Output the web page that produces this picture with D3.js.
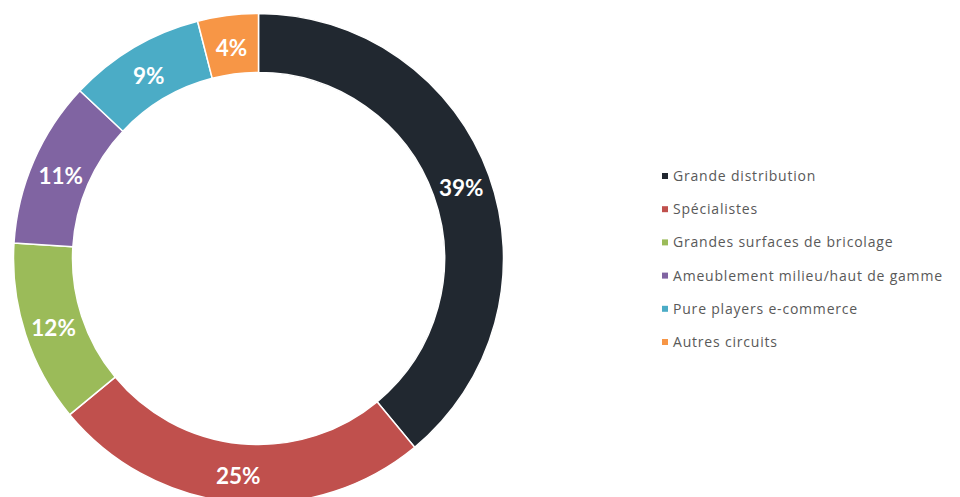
<!DOCTYPE html>
<html>
<head>
<meta charset="utf-8">
<script src="https://cdn.jsdelivr.net/npm/d3@7"></script>
<style>
  html, body { margin: 0; padding: 0; background: #fff; }
  svg { display: block; }
</style>
</head>
<body>
<svg id="chart" width="960" height="497"></svg>
<script>
// Distribution channels and their share (%)
const categories = [
  "Grande distribution",
  "Spécialistes",
  "Grandes surfaces de bricolage",
  "Ameublement milieu/haut de gamme",
  "Pure players e-commerce",
  "Autres circuits"
];
const shares = [39, 25, 12, 11, 9, 4];
const colors = ["#212830", "#C0504D", "#9BBB59", "#8064A2", "#4BACC6", "#F79646"];

const svg = d3.select("#chart");
const cx = 258.5, cy = 258.5;
const outerR = 245, innerR = 186;

const data = categories.map((c, i) => ({ name: c, value: shares[i], color: colors[i] }));

const pie = d3.pie().sort(null).value(d => d.value);
const arc = d3.arc().innerRadius(innerR).outerRadius(outerR);

const g = svg.append("g").attr("transform", `translate(${cx},${cy})`);
const arcs = pie(data);

g.selectAll("path.slice")
  .data(arcs)
  .join("path")
  .attr("class", "slice")
  .attr("d", arc)
  .attr("fill", d => d.data.color)
  .attr("stroke", "#fff")
  .attr("stroke-width", 1.5);

g.selectAll("text.val")
  .data(arcs)
  .join("text")
  .attr("class", "val")
  .attr("transform", d => `translate(${arc.centroid(d)})`)
  .attr("text-anchor", "middle")
  .attr("dy", "0.48em")
  .attr("font-family", "Lato, 'Open Sans', sans-serif")
  .attr("font-weight", "bold")
  .attr("font-size", 22.5)
  .attr("fill", "#fff")
  .text(d => d.data.value + "%");

// Legend
const legend = svg.append("g").attr("transform", "translate(662,176)");
const rowH = 33.2;
const items = legend.selectAll("g").data(data).join("g")
  .attr("transform", (d, i) => `translate(0,${i * rowH})`);
items.append("rect")
  .attr("x", 0).attr("y", -3).attr("width", 6).attr("height", 6)
  .attr("fill", d => d.color);
items.append("text")
  .attr("x", 11).attr("dy", "0.35em")
  .attr("font-family", "'Open Sans', sans-serif")
  .attr("font-size", 14)
  .attr("letter-spacing", 0.8)
  .attr("fill", "#595959")
  .text(d => d.name);
</script>
</body>
</html>
